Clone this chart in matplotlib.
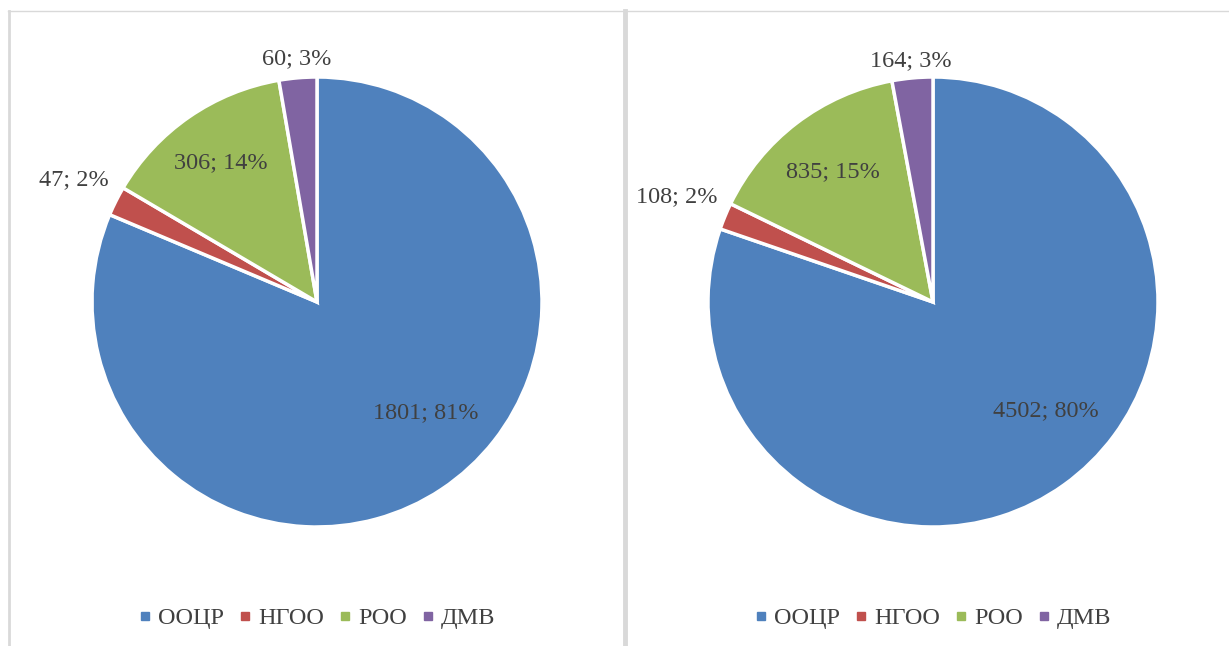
import numpy as np
import matplotlib
matplotlib.use("Agg")
import matplotlib.pyplot as plt
from matplotlib.lines import Line2D

plt.rcParams['font.family'] = ['Liberation Serif', 'DejaVu Serif']

categories = ["ООЦР", "НГОО", "РОО", "ДМВ"]
values_left = [1801, 47, 306, 60]
pct_left = [81, 2, 14, 3]
values_right = [4502, 108, 835, 164]
pct_right = [80, 2, 15, 3]
colors = ["#4F81BD", "#C0504D", "#9BBB59", "#8064A2"]

W, H = 1229, 646
fig = plt.figure(figsize=(W / 100, H / 100), dpi=100)

# pixel helpers
def fx(px):
    return px / W

def fy(py):
    return 1 - py / H

# frame lines like the Excel chart boxes
border = "#d9d9d9"
fig.add_artist(Line2D([fx(8), fx(1228)], [fy(11), fy(11)], color=border, lw=1))
fig.add_artist(Line2D([fx(9), fx(9)], [fy(11), fy(646)], color=border, lw=2))
fig.add_artist(Line2D([fx(625), fx(625)], [fy(11), fy(646)], color=border, lw=3.5))

R = 225      # pie radius in px
HALF = 300   # half size of the pie axes in px

def draw(cx, cy, vals, pcts, dists, blue_shift):
    ax = fig.add_axes([fx(cx - HALF), fy(cy + HALF), 2 * HALF / W, 2 * HALF / H])
    wedges, _ = ax.pie(vals, colors=colors, startangle=90, counterclock=False,
                       radius=1, wedgeprops=dict(edgecolor="white", linewidth=2.5))
    lim = HALF / R
    ax.set_xlim(-lim, lim)
    ax.set_ylim(-lim, lim)
    ax.set_aspect("equal")
    ax.axis("off")
    for i, w in enumerate(wedges):
        mid = np.deg2rad((w.theta1 + w.theta2) / 2 + (blue_shift if i == 0 else 0))
        d = dists[i]
        ax.text(d * np.cos(mid), d * np.sin(mid), f"{vals[i]}; {pcts[i]}%",
                ha="center", va="center", fontsize=17.5, color="#404040")
    handles = [Line2D([], [], marker="s", ls="none", color=c, markersize=6)
               for c in colors]
    fig.legend(handles, categories, loc="center", bbox_to_anchor=(fx(cx), fy(618)),
               ncol=4, frameon=False, fontsize=17.5, handlelength=0.5,
               handletextpad=0.3, columnspacing=0.6, labelcolor="#404040")

draw(317, 302, values_left, pct_left, [0.69, 1.21, 0.75, 1.085], 11)
draw(933, 302, values_right, pct_right, [0.695, 1.23, 0.73, 1.078], 10.5)

fig.savefig("out.png", dpi=100)
